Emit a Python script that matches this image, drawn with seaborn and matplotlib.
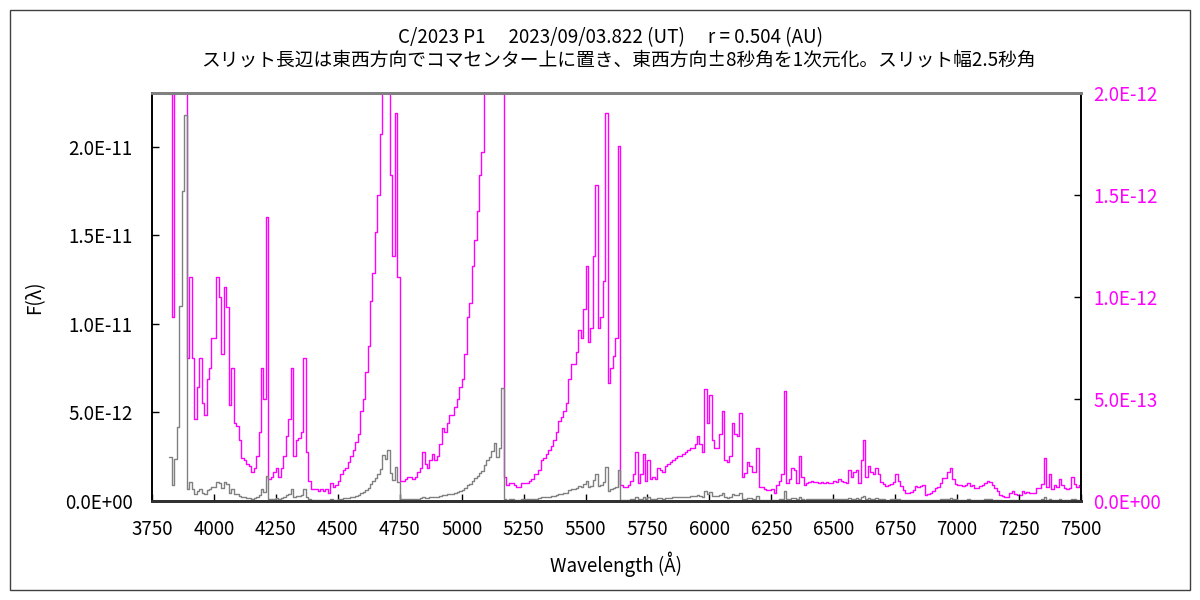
import numpy as np
import pandas as pd
import matplotlib
matplotlib.use("Agg")
import matplotlib.pyplot as plt
import seaborn as sns
from matplotlib.patches import Rectangle

sns.set_theme(style="white")
plt.rcParams['font.family'] = ['Noto Sans CJK JP', 'DejaVu Sans']

# ---------------- data (flux in units of 1e-13, 10 A bins from 3820 A) ----------------
wl_start = 3820
wl_step = 10
wl_end = 7500

flux_3820 = [25, 9, 24, 42, 110, 175, 218, 7, 11, 7, 4, 5.6, 7, 4.8, 4.2, 6, 6.5, 8, 8, 11,
             10, 7.2, 10.5, 9.5, 4.7, 6.5, 3.8, 3.7, 3.0, 2.1, 2.0, 1.8, 1.7, 1.4, 1.6, 2.2, 3.4, 6.5]
flux_4200 = [5.0, 13.9, 1.1, 1.2, 1.4, 1.6, 1.2, 1.6, 2.2, 3.2, 4.0, 6.5, 2.2, 3.0, 3.1, 3.4, 7.0, 2.4, 1.0, 0.6,
             0.6, 0.6, 0.5, 0.6, 0.5, 0.6, 0.4, 0.9, 0.7, 0.8, 1.0, 1.3, 1.5, 1.6, 1.9, 2.2, 2.5, 2.9, 3.3, 4.4,
             5.0, 6.3, 7.6, 9.8, 11.2, 13.2, 15.0, 18, 26, 24]
flux_4700 = [29, 16, 12, 19, 11, 1.0, 1.0, 1.1, 1.2, 1.2, 1.1, 1.2, 1.4, 1.6, 2.4, 1.8, 1.6, 2.0, 2.3, 2.0,
             2.2, 2.8, 3.6, 3.4, 3.8, 4.2, 4.2, 4.6, 5.0, 5.6, 6.0, 7.2, 9.0, 9.7, 11.5, 12.8, 14.2, 16.0, 17.1, 20.5,
             23, 25, 28, 33, 25, 30, 64, 1.2, 0.8, 0.9]
flux_5200 = [0.9, 0.8, 0.7, 0.7, 0.9, 0.9, 0.9, 1.0, 1.1, 1.3, 1.3, 1.5, 2.0, 2.1, 2.3, 2.5, 2.7, 3.0, 3.4, 3.9,
             4.1, 4.4, 4.8, 6.0, 6.7, 6.7, 7.3, 8.4, 8.0, 9.4, 11.5, 7.8, 8.5, 12, 15.5, 8.5, 9.0, 10.8, 19.0, 5.8,
             6.5, 7.1, 8.0, 17.4, 0.8, 0.7, 0.7, 0.8, 1.0, 1.3]
flux_5700 = [2.4, 0.9, 1.3, 2.3, 1.0, 2.0, 1.1, 1.2, 1.1, 1.6, 1.5, 1.4, 1.7, 1.8, 1.9, 2.0, 2.1, 2.2, 2.2, 2.3,
             2.4, 2.5, 2.6, 2.6, 2.8, 3.2, 2.8, 2.4, 5.5, 3.8, 5.2, 3.0, 2.6, 2.6, 3.3, 4.4, 2.0, 1.9, 2.2, 3.8,
             3.3, 3.2, 4.3, 1.2, 1.35, 1.9, 1.7, 1.4, 1.4, 2.6]
flux_6200 = [0.7, 0.7, 0.6, 0.55, 0.55, 0.6, 0.4, 0.8, 1.0, 1.3, 5.4, 0.9, 1.1, 1.6, 1.5, 0.9, 2.2, 1.2, 0.8, 0.9,
             0.95, 1.0, 0.95, 0.95, 0.9, 0.95, 0.9, 0.95, 0.9, 0.9, 1.0, 0.95, 1.1, 1.0, 0.95, 0.9, 1.5, 1.2, 1.4, 1.5,
             0.9, 2.0, 3.0, 1.2, 1.7, 1.4, 1.3, 1.6, 1.3, 0.95]
flux_6700 = [0.85, 0.75, 0.8, 0.85, 0.95, 1.3, 1.0, 0.75, 0.55, 0.4, 0.4, 0.45, 0.55, 0.75, 0.7, 0.75, 0.8, 0.3, 0.35, 0.4,
             0.5, 0.65, 0.7, 0.9, 1.15, 1.15, 1.4, 1.6, 1.1, 0.85, 0.8, 0.8, 0.75, 0.8, 0.9, 0.75, 0.8, 0.65, 0.65, 0.75,
             0.8, 0.9, 1.0, 0.95, 0.8, 0.65, 0.5, 0.3, 0.25, 0.2]
flux_7200 = [0.2, 0.4, 0.5, 0.35, 0.3, 0.3, 0.5, 0.4, 0.45, 0.4, 0.4, 0.4, 0.65, 0.65, 0.85, 2.1, 0.7, 1.3, 0.6, 0.8,
             0.7, 1.1, 0.8, 0.65, 0.6, 0.65, 1.2, 0.85, 0.7, 0.8]
flux_unit = 1e-13

x_ticks = [3750, 4000, 4250, 4500, 4750, 5000, 5250, 5500, 5750, 6000, 6250, 6500, 6750, 7000, 7250, 7500]
left_ticks = [0, 5e-12, 1e-11, 1.5e-11, 2e-11]
left_labels = ["0.0E+00", "5.0E-12", "1.0E-11", "1.5E-11", "2.0E-11"]
right_ticks = [0, 5e-13, 1e-12, 1.5e-12, 2e-12]
right_labels = ["0.0E+00", "5.0E-13", "1.0E-12", "1.5E-12", "2.0E-12"]

title1 = "C/2023 P1\u3000 2023/09/03.822 (UT)\u3000 r = 0.504 (AU)"
title2 = "スリット長辺は東西方向でコマセンター上に置き、東西方向±8秒角を1次元化。スリット幅2.5秒角"

# ---------------- build frame ----------------
flux = np.array(flux_3820 + flux_4200 + flux_4700 + flux_5200 + flux_5700 + flux_6200 + flux_6700 + flux_7200) * flux_unit
wl = wl_start + wl_step * np.arange(len(flux))
wl = np.append(wl, wl_end)
flux = np.append(flux, flux[-1])
df = pd.DataFrame({"wl": wl, "flux": flux})

# ---------------- figure ----------------
fs = 13.5
fig = plt.figure(figsize=(12, 6), dpi=100)
fig.patch.set_facecolor("white")
ax = fig.add_axes([152/1200, 1 - 501/600, (1081-152)/1200, (501-93)/600])
ax2 = ax.twinx()

sns.lineplot(data=df, x="wl", y="flux", ax=ax2, color="#FF00FF", lw=1.0,
             drawstyle="steps-post", estimator=None, sort=False)
sns.lineplot(data=df, x="wl", y="flux", ax=ax, color="#808080", lw=1.0,
             drawstyle="steps-post", estimator=None, sort=False)

ax.set_zorder(ax2.get_zorder() + 1)
ax.patch.set_visible(False)
ax2.patch.set_facecolor("white")

ax.set_xlim(3750, 7500)
ax.set_ylim(0, 2.305e-11)
ax2.set_ylim(0, 2.0e-12)

ax.set_xticks(x_ticks)
ax.set_xticklabels([str(t) for t in x_ticks])
ax.set_yticks(left_ticks)
ax.set_yticklabels(left_labels)
ax2.set_yticks(right_ticks)
ax2.set_yticklabels(right_labels)

ax.tick_params(axis="x", direction="in", length=5, width=1, color="black", pad=13, labelsize=fs, labelcolor="black")
ax.tick_params(axis="y", direction="in", length=5, width=1, color="black", pad=14, labelsize=fs, labelcolor="black")
ax2.tick_params(axis="y", direction="in", length=5, width=1, color="black", pad=9, labelsize=fs, labelcolor="#FF00FF")
ax.tick_params(axis="both", which="both", left=True, bottom=True)
ax2.tick_params(axis="y", right=True)

for a in (ax, ax2):
    for s in a.spines.values():
        s.set_visible(True)
    a.spines["left"].set_color("black")
    a.spines["left"].set_linewidth(1.2)
    a.spines["right"].set_color("black")
    a.spines["right"].set_linewidth(1.2)
    a.spines["bottom"].set_color("#303030")
    a.spines["bottom"].set_linewidth(2)
    a.spines["top"].set_color("#808080")
    a.spines["top"].set_linewidth(2)
ax.grid(False)
ax2.grid(False)

ax.set_xlabel("Wavelength (Å)", fontsize=fs, labelpad=8, color="black")
ax.set_ylabel("F(λ)", fontsize=fs, labelpad=14, color="black")
ax2.set_ylabel("")

fig.text(610/1200, 1 - 38/600, title1, ha="center", va="center", fontsize=fs, color="black")
fig.text(618/1200, 1 - 60/600, title2, ha="center", va="center", fontsize=fs, color="black")

fig.patches.append(Rectangle((10/1200, 10/600), 1180/1200, 580/600, transform=fig.transFigure,
                             fill=False, edgecolor="#404040", linewidth=1.0))

fig.savefig("out.png", dpi=100)
